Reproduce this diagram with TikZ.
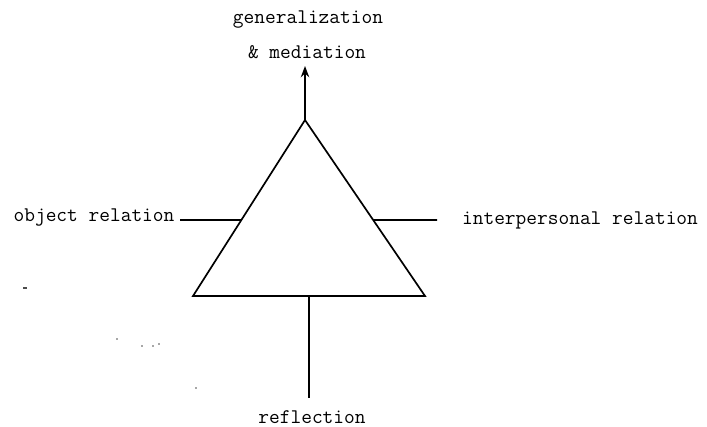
\documentclass[tikz,border=0pt]{standalone}
\usepackage{tikz}
\usetikzlibrary{arrows.meta,calc}

\tikzset{
    label text/.style={font=\ttfamily\fontsize{14.8}{16}\selectfont, inner sep=0pt},
    edge line/.style={line width=1.2pt},
    speck/.style={fill=black!70}
}

\begin{document}
\begin{tikzpicture}[x=0.025cm, y=-0.025cm]

\useasboundingbox (0,0) rectangle (707,426);

% triangle corners
\coordinate (apex) at (305,120);
\coordinate (bl) at (193,296);
\coordinate (br) at (425,296);

\draw[edge line] (apex) -- (bl) -- (br) -- cycle;

% points on the sides
\coordinate (lside) at ($(apex)!0.5682!(bl)$);
\coordinate (rside) at ($(apex)!0.5682!(br)$);
\coordinate (bmid) at (309,296);

% labels
\node[label text] (gen) at (308,20) {generalization};
\node[label text] (med) at (307,52) {\& mediation};
\node[label text] (objrel) at (94,218) {object relation};
\node[label text] (iprel) at (580,220) {interpersonal relation};
\node[label text] (refl) at (312,417) {reflection};

\coordinate (tip) at (305,66);
\coordinate (lend) at (180,220);
\coordinate (rend) at (437,220);
\coordinate (bend) at (309,398);

% connectors
\draw[edge line, -{Stealth[length=8pt,width=6pt]}] (apex) -- (tip);
\draw[edge line] (lend) -- (lside);
\draw[edge line] (rside) -- (rend);
\draw[edge line] (bmid) -- (bend);

% specks from the scan
\draw[line width=0.8pt, black!70] (23,288) -- (27,288);
\foreach \p in {(117,339),(142,346),(153,346),(159,344),(196,388)}
    \fill[speck] \p circle (0.9);

\end{tikzpicture}
\end{document}
